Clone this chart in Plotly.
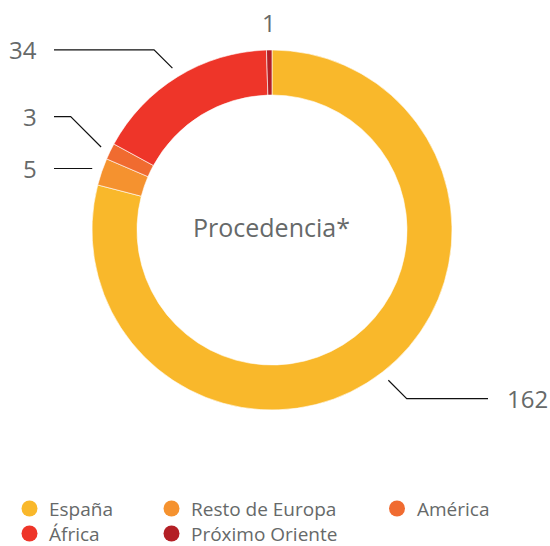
import math
import plotly.graph_objects as go

# ---- data ----
categories = ["España", "Resto de Europa", "América", "África", "Próximo Oriente"]
values = [162, 5, 3, 34, 1]
colors = ["#F9B82B", "#F5922F", "#F06B30", "#EE3529", "#B31F25"]
center_title = "Procedencia*"

# ---- layout geometry (pixels) ----
W, H = 550, 546
CX, CY, R = 272, 230, 180
HOLE = 0.75
GRAY = "#666969"
FONT = "Open Sans"

fig = go.Figure()
fig.add_trace(go.Pie(
    labels=categories, values=values, sort=False, direction="clockwise", rotation=0,
    hole=HOLE, marker=dict(colors=colors, line=dict(color="white", width=0.6)),
    textinfo="none", hoverinfo="label+value", showlegend=False,
    domain=dict(x=[(CX - R) / W, (CX + R) / W], y=[1 - (CY + R) / H, 1 - (CY - R) / H]),
))

# leader lines computed from slice mid-angles
total = sum(values)
# per-label style: (elbow diagonal length, horizontal end x, side, show line)
label_style = {
    "España": (26, 488, "right", True),
    "Resto de Europa": (0, 54, "left", True),
    "América": (43, 54, "left", True),
    "África": (26, 54, "left", True),
    "Próximo Oriente": (None, None, "top", False),
}
cum = 0
for cat, v in zip(categories, values):
    mid = (cum + v / 2) / total * 2 * math.pi
    cum += v
    sx, sy = math.sin(mid), -math.cos(mid)
    diag, hx, side, show = label_style[cat]
    if not show:
        x0, y0 = CX + (R + 28) * sx, CY + (R + 28) * sy
        fig.add_annotation(x=x0, y=y0, xref="x", yref="y", text=str(v), showarrow=False,
                           font=dict(size=24, color=GRAY, family=FONT), xanchor="center", yanchor="middle")
        continue
    x0, y0 = CX + (R + 10) * sx, CY + (R + 10) * sy
    d = diag / math.sqrt(2)
    x1 = x0 + (d if sx > 0 else -d)
    y1 = y0 + (d if sy > 0 else -d)
    fig.add_trace(go.Scatter(x=[x0, x1, hx], y=[y0, y1, y1], mode="lines",
                             line=dict(color="#111111", width=1.2), hoverinfo="skip",
                             showlegend=False, xaxis="x", yaxis="y"))
    if side == "left":
        fig.add_annotation(x=hx - 15, y=y1, xref="x", yref="y", text=str(v), showarrow=False,
                           font=dict(size=24, color=GRAY, family=FONT), xanchor="right", yanchor="middle")
    else:
        fig.add_annotation(x=hx + 17, y=y1, xref="x", yref="y", text=str(v), showarrow=False,
                           font=dict(size=24, color=GRAY, family=FONT), xanchor="left", yanchor="middle")

fig.add_annotation(x=CX - 1, y=CY - 3, xref="x", yref="y", text=center_title, showarrow=False,
                   font=dict(size=25, color=GRAY, family=FONT), xanchor="center", yanchor="middle")

# custom legend (3 columns)
leg_cols = [29.5, 171.5, 397]
leg_rows = [508.5, 533.5]
for i, (cat, col) in enumerate(zip(categories, colors)):
    lx = leg_cols[i % 3]
    ly = leg_rows[i // 3]
    fig.add_trace(go.Scatter(x=[lx], y=[ly], mode="markers",
                             marker=dict(size=16, color=col, symbol="circle", line=dict(width=0)),
                             hoverinfo="skip", showlegend=False, xaxis="x", yaxis="y"))
    fig.add_annotation(x=lx + 19.5, y=ly, xref="x", yref="y", text=cat, showarrow=False,
                       borderpad=0, borderwidth=0,
                       font=dict(size=19, color=GRAY, family=FONT), xanchor="left", yanchor="middle")

fig.update_layout(
    width=W, height=H, margin=dict(l=0, r=0, t=0, b=0),
    paper_bgcolor="white", plot_bgcolor="rgba(0,0,0,0)",
    xaxis=dict(range=[0, W], domain=[0, 1], visible=False, fixedrange=True),
    yaxis=dict(range=[H, 0], domain=[0, 1], visible=False, fixedrange=True),
    showlegend=False,
)
fig.write_html("out.html", config={"displayModeBar": False},
               post_script="document.body.style.margin='0';document.body.style.overflow='hidden';")
